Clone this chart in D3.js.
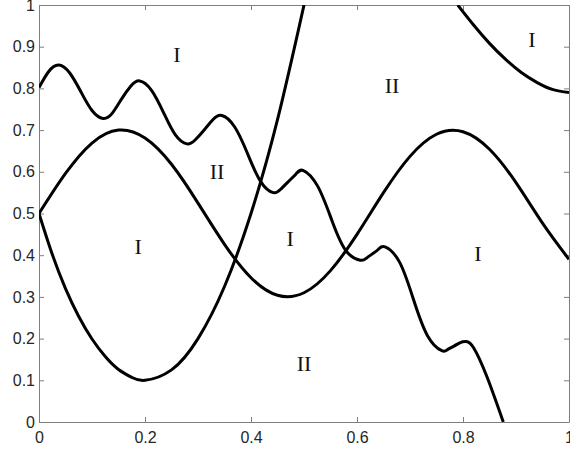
<!DOCTYPE html>
<html>
<head>
<meta charset="utf-8">
<script src="https://cdn.jsdelivr.net/npm/d3@7"></script>
<style>
  body { margin: 0; background: #fff; }
  .axis text { font-family: "Liberation Sans", Arial, sans-serif; font-size: 16px; fill: #262626; }
  .axis path, .axis line { stroke: #7f7f7f; }
  .region { font-family: "Liberation Serif", "Times New Roman", serif; font-size: 22px; fill: #111; }
</style>
</head>
<body>
<div id="chart"></div>
<script>
// curves, [x, y]
const wavy = [
  [0, 0.802], [0.018, 0.84], [0.037, 0.856], [0.058, 0.837], [0.079, 0.792],
  [0.100, 0.747], [0.121, 0.728], [0.138, 0.74], [0.155, 0.773], [0.173, 0.805],
  [0.19, 0.818], [0.212, 0.796], [0.235, 0.742], [0.257, 0.689], [0.279, 0.667],
  [0.295, 0.677], [0.312, 0.701], [0.328, 0.725], [0.345, 0.735], [0.369, 0.708],
  [0.393, 0.645], [0.418, 0.577], [0.442, 0.55], [0.456, 0.558], [0.47, 0.576],
  [0.485, 0.595], [0.499, 0.603], [0.526, 0.565], [0.553, 0.482], [0.579, 0.411],
  [0.606, 0.388], [0.618, 0.393], [0.63, 0.404], [0.641, 0.415], [0.653, 0.42],
  [0.68, 0.384], [0.706, 0.296], [0.733, 0.207], [0.76, 0.171], [0.771, 0.174],
  [0.783, 0.182], [0.794, 0.19], [0.806, 0.193], [0.82, 0.178], [0.845, 0.109],
  [0.876, 0.0]
];
const wave = [
  [0, 0.5], [0.05, 0.596], [0.1, 0.669], [0.15, 0.70], [0.2, 0.681],
  [0.25, 0.618], [0.3, 0.525], [0.35, 0.426], [0.4, 0.346], [0.45, 0.304],
  [0.5, 0.31], [0.55, 0.363], [0.6, 0.45], [0.65, 0.55], [0.7, 0.637],
  [0.75, 0.69], [0.8, 0.696], [0.85, 0.654], [0.9, 0.574], [0.95, 0.477],
  [1.0, 0.39]
];
const bowl = [
  [0, 0.5], [0.025, 0.402], [0.05, 0.32], [0.075, 0.253], [0.1, 0.199],
  [0.125, 0.157], [0.15, 0.126], [0.175, 0.107], [0.2, 0.1], [0.25, 0.125],
  [0.3, 0.2], [0.35, 0.325], [0.4, 0.5], [0.45, 0.725], [0.5, 1.0]
];
const corner = [
  [0.79, 1.0], [0.82, 0.952], [0.85, 0.908], [0.88, 0.87], [0.91, 0.838],
  [0.94, 0.814], [0.97, 0.797], [1.0, 0.79]
];
const curves = [wavy, wave, bowl, corner];

const regions = [
  { text: 'I', x: 0.26, y: 0.88 },
  { text: 'II', x: 0.666, y: 0.806 },
  { text: 'I', x: 0.93, y: 0.916 },
  { text: 'II', x: 0.336, y: 0.60 },
  { text: 'I', x: 0.187, y: 0.42 },
  { text: 'I', x: 0.474, y: 0.44 },
  { text: 'I', x: 0.828, y: 0.403 },
  { text: 'II', x: 0.50, y: 0.14 }
];

const xTicks = [0, 0.2, 0.4, 0.6, 0.8, 1];
const yTicks = [0, 0.1, 0.2, 0.3, 0.4, 0.5, 0.6, 0.7, 0.8, 0.9, 1];

const W = 570, H = 450;
const margin = { top: 5, right: 1, bottom: 28, left: 39 };
const w = W - margin.left - margin.right;
const h = H - margin.top - margin.bottom;

const svg = d3.select('#chart').append('svg')
  .attr('width', W)
  .attr('height', H);

const g = svg.append('g')
  .attr('transform', `translate(${margin.left},${margin.top})`);

const x = d3.scaleLinear().domain([0, 1]).range([0, w]);
const y = d3.scaleLinear().domain([0, 1]).range([h, 0]);

const fmt = d => d === 0 || d === 1 ? String(d) : d.toFixed(1);

g.append('g').attr('class', 'axis')
  .attr('transform', `translate(0,${h})`)
  .call(d3.axisBottom(x).tickValues(xTicks).tickFormat(fmt).tickSize(-5).tickSizeOuter(0).tickPadding(10));
g.append('g').attr('class', 'axis')
  .call(d3.axisLeft(y).tickValues(yTicks).tickFormat(fmt).tickSize(-5).tickSizeOuter(0).tickPadding(4));
g.append('g').attr('class', 'axis')
  .call(d3.axisTop(x).tickValues(xTicks).tickFormat('').tickSize(-5).tickSizeOuter(0));
g.append('g').attr('class', 'axis')
  .attr('transform', `translate(${w},0)`)
  .call(d3.axisRight(y).tickValues(yTicks).tickFormat('').tickSize(-5).tickSizeOuter(0));

g.append('clipPath').attr('id', 'clip')
  .append('rect').attr('width', w).attr('height', h);

const line = d3.line()
  .x(d => x(d[0]))
  .y(d => y(d[1]))
  .curve(d3.curveNatural);

g.append('g').attr('clip-path', 'url(#clip)')
  .selectAll('path')
  .data(curves)
  .join('path')
  .attr('d', line)
  .attr('fill', 'none')
  .attr('stroke', '#000')
  .attr('stroke-width', 3);

g.selectAll('text.region')
  .data(regions)
  .join('text')
  .attr('class', 'region')
  .attr('x', d => x(d.x))
  .attr('y', d => y(d.y))
  .attr('text-anchor', 'middle')
  .attr('dy', '0.33em')
  .text(d => d.text);
</script>
</body>
</html>
